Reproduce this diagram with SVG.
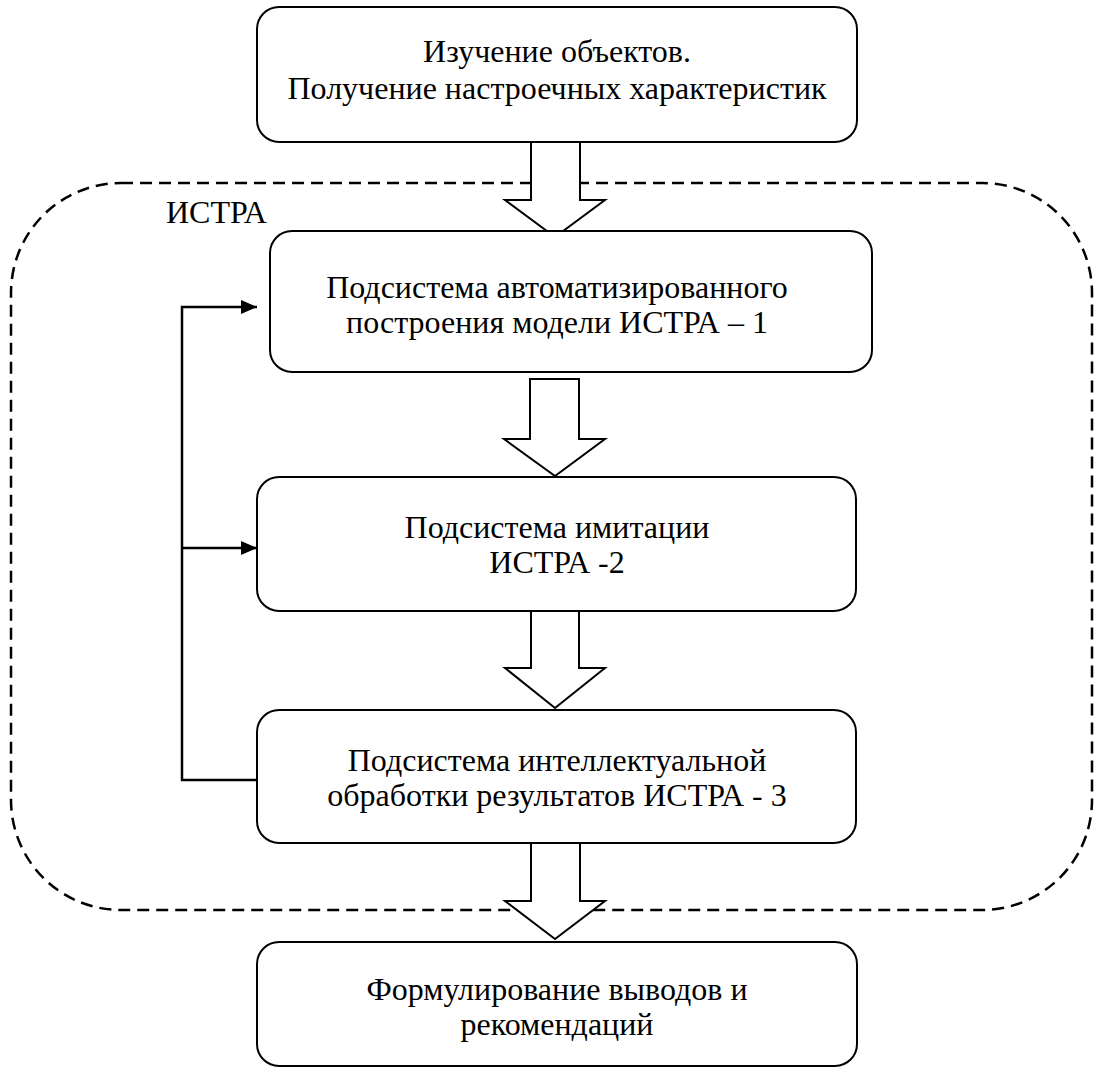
<svg xmlns="http://www.w3.org/2000/svg" width="1094" height="1070" viewBox="0 0 1094 1070">
<defs>
<style>
.box{fill:#fff;stroke:#000;stroke-width:2}
.txt{font-size:32px;fill:#000;text-anchor:middle}
.lbl{font-size:32px;fill:#000}
.harrow{fill:#fff;stroke:#000;stroke-width:2;stroke-linejoin:miter}
.line{fill:none;stroke:#000;stroke-width:2.5}
.dash{fill:none;stroke:#000;stroke-width:2.5;stroke-dasharray:12 7}
</style>
<marker id="ah" markerWidth="16" markerHeight="14" refX="16" refY="7" orient="auto" markerUnits="userSpaceOnUse">
<path d="M0,0 L16,7 L0,14 Z" fill="#000"/>
</marker>
</defs>
<rect width="1094" height="1070" fill="#fff"/>
<g font-family="'Liberation Serif', 'Times New Roman', 'DejaVu Serif', serif">
<g id="istra-boundary">
<rect class="dash" x="11" y="183" width="1081" height="727" rx="110" ry="110"/>
<text class="lbl" x="166" y="223">ИСТРА</text>
</g>
<g id="connectors">
<polygon class="harrow" points="531,142 580,142 580,200 605,200 555,237 505,200 531,200"/>
<polygon class="harrow" points="530,379 579,379 579,439 605,439 555,476 504,439 530,439"/>
<polygon class="harrow" points="531,611 579,611 579,668 605,668 555,708 505,668 531,668"/>
<polygon class="harrow" points="531,843 580,843 580,901 605,901 555,939 505,901 531,901"/>
<polyline class="line" points="257,780 182,780 182,307 257,307" marker-end="url(#ah)"/>
<line class="line" x1="182" y1="548" x2="257" y2="548" marker-end="url(#ah)"/>
</g>
<g id="node-study">
<rect class="box" x="257" y="7" width="600" height="135" rx="22" ry="22"/>
<text class="txt" x="557" y="62">Изучение объектов.</text>
<text class="txt" x="557" y="99">Получение настроечных характеристик</text>
</g>
<g id="node-istra1">
<rect class="box" x="270" y="231" width="602" height="141" rx="22" ry="22"/>
<text class="txt" x="557" y="298">Подсистема автоматизированного</text>
<text class="txt" x="557" y="333">построения модели ИСТРА – 1</text>
</g>
<g id="node-istra2">
<rect class="box" x="257" y="477" width="599" height="134" rx="22" ry="22"/>
<text class="txt" x="557" y="538">Подсистема имитации</text>
<text class="txt" x="557" y="573">ИСТРА -2</text>
</g>
<g id="node-istra3">
<rect class="box" x="257" y="710" width="599" height="133" rx="22" ry="22"/>
<text class="txt" x="557" y="771">Подсистема интеллектуальной</text>
<text class="txt" x="557" y="806">обработки результатов ИСТРА - 3</text>
</g>
<g id="node-conclusions">
<rect class="box" x="257" y="942" width="600" height="124" rx="22" ry="22"/>
<text class="txt" x="557" y="1000">Формулирование выводов и</text>
<text class="txt" x="557" y="1035">рекомендаций</text>
</g>
</g>
</svg>
